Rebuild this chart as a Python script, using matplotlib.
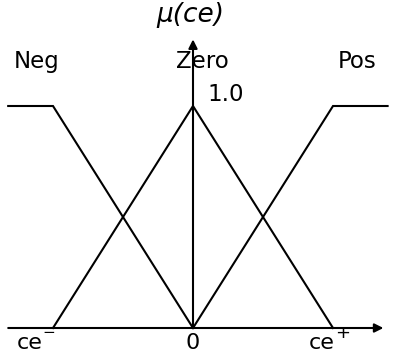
import matplotlib
matplotlib.use("Agg")
import matplotlib.pyplot as plt

# membership function data
neg_x = [-1.32, -1.0, 0.0]
neg_y = [1.0, 1.0, 0.0]
zero_x = [-1.0, 0.0, 1.0]
zero_y = [0.0, 1.0, 0.0]
pos_x = [0.0, 1.0, 1.39]
pos_y = [0.0, 1.0, 1.0]
labels = ["Neg", "Zero", "Pos"]

fig = plt.figure(figsize=(3.95, 3.56), dpi=100)
ax = fig.add_axes([0, 0, 1, 1])
ax.set_xlim(-193 / 140, 202 / 140)
ax.set_ylim(-28 / 222, 328 / 222)
ax.axis("off")

lw = 1.5
for xs, ys in [(neg_x, neg_y), (zero_x, zero_y), (pos_x, pos_y)]:
    ax.plot(xs, ys, color="black", lw=lw, solid_joinstyle="miter")

# axes with arrows
ax.annotate("", xy=(1.36, 0), xytext=(-1.32, 0),
            arrowprops=dict(arrowstyle="-|>", lw=lw, color="black",
                            mutation_scale=13, shrinkA=0, shrinkB=0))
ax.annotate("", xy=(0, 1.30), xytext=(0, 0),
            arrowprops=dict(arrowstyle="-|>", lw=lw, color="black",
                            mutation_scale=13, shrinkA=0, shrinkB=0))

font = "DejaVu Sans"
fs = 16.5
ax.text(-1.12, 1.20, labels[0], fontsize=fs, family=font, ha="center", va="center")
ax.text(0.07, 1.20, labels[1], fontsize=fs, family=font, ha="center", va="center")
ax.text(1.17, 1.20, labels[2], fontsize=fs, family=font, ha="center", va="center")
ax.text(0.10, 1.05, "1.0", fontsize=fs, family=font, ha="left", va="center")
ax.text(-0.02, 1.41, "μ(ce)", fontsize=19, family=font, style="italic",
        ha="center", va="center")

ax.text(-1.17, -0.068, "ce", fontsize=16, family=font, ha="center", va="center")
ax.text(-1.03, -0.022, "−", fontsize=11, family=font, ha="center", va="center")
ax.text(0.0, -0.068, "0", fontsize=16, family=font, ha="center", va="center")
ax.text(0.92, -0.068, "ce", fontsize=16, family=font, ha="center", va="center")
ax.text(1.07, -0.022, "+", fontsize=13, family=font, ha="center", va="center")

fig.savefig("out.png", dpi=100)
